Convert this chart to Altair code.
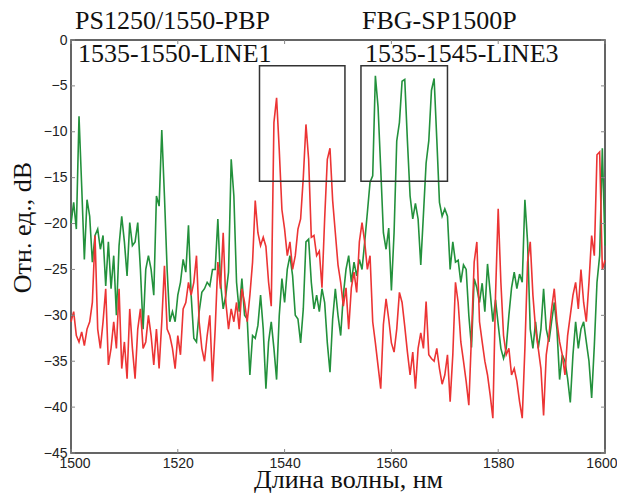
import altair as alt
import pandas as pd

# ---- data ----
wavelength = [1500 + 0.5 * i for i in range(201)]  # sampling grid, nm

green_db = [
    -20, -17.7, -20.6, -8.3, -15.9, -23.9, -17.4, -19.2, -24.2, -21.3,
    -20.6, -22.8, -21.3, -26.8, -22, -27.1, -23.5, -30, -22.4, -19.2,
    -22, -25.7, -19.9, -22.4, -22, -19.9, -25, -31.5, -25, -23.5,
    -25, -27.8, -17, -18.1, -9.8, -17, -25, -30.7, -29.6, -30.7,
    -27.8, -26.4, -23.9, -25.3, -20.2, -27.8, -32.5, -32.9, -29.6, -27.5,
    -27.1, -26.4, -26.8, -25, -25, -19.5, -26.4, -29.3, -27.8, -25.3,
    -13, -17, -26.4, -29.6, -26, -30, -30.4, -36.5, -32.2, -32.5,
    -31.1, -27.8, -31.5, -38, -32.9, -30.7, -33.6, -37, -30, -26,
    -28.6, -25, -23.5, -25.7, -30, -30.4, -33, -29.3, -22, -21.7,
    -26.4, -29.3, -27.8, -29.6, -27.1, -28.6, -33, -36.2, -30.4, -27.1,
    -30, -32.2, -27.8, -25, -23.5, -26.4, -24.2, -25.7, -23.9, -25,
    -22, -18.8, -15.5, -14.8, -3.9, -7.3, -14, -21, -22.8, -20.5,
    -27.3, -21, -11, -9, -4.5, -4.3, -11, -17, -19.5, -17.8,
    -19.5, -24.5, -19, -13.4, -11, -5.5, -4.2, -10.8, -17.7, -19.2,
    -18.4, -19.2, -25, -22, -24.2, -24, -26.4, -24.5, -25, -30,
    -33.5, -26, -27, -28.6, -26.5, -29.6, -24.4, -27.5, -30.7, -28.3,
    -31, -33.6, -34.7, -33.6, -30, -27, -25.3, -27.1, -25.5, -26.4,
    -17.4, -22, -31.5, -33.6, -30.7, -33.6, -31.5, -27.1, -31.5, -32.9,
    -30.7, -28.6, -31.5, -37, -34.3, -35, -36.9, -39.5, -34.3, -30.7,
    -33.6, -31.5, -30.7, -32.9, -35, -39, -33.3, -26.4, -23.5, -11.8,
    -22.4,
]

red_db = [
    -30.7, -29.6, -32.2, -32.9, -31.8, -33.3, -31.5, -30.7, -28.6, -21.3,
    -31.5, -33.6, -30.7, -27.1, -35.4, -33.6, -30.7, -33.6, -27.1, -35.8,
    -32.9, -36.9, -29.3, -33.6, -36.9, -31.5, -29.3, -33.6, -32.9, -30,
    -32.2, -35.4, -31.5, -35.8, -30.7, -24.6, -31.5, -32.2, -33.6, -35.8,
    -32.2, -34.3, -29.3, -28.6, -26.4, -27.8, -26.4, -23.5, -30.7, -33.6,
    -35, -32.2, -30, -37.2, -31.5, -24.2, -27.1, -21, -28.6, -31.5,
    -29.3, -30.7, -28.6, -31.5, -27.1, -28.6, -30.7, -27.8, -24.2, -17.5,
    -21, -22.4, -21.5, -22.5, -26.4, -29, -9, -6.3, -12, -18.5,
    -20.6, -23.5, -22, -25, -23.5, -20.6, -19.5, -15, -9.2, -13,
    -21.5, -21.3, -23.5, -23, -27, -19.5, -13, -11.8, -17.5, -21,
    -24.5, -26.4, -29, -27, -31.5, -27, -25.3, -27.5, -22, -19.9,
    -22, -25, -23.5, -30.7, -33, -35.5, -38, -31, -28.2, -30.4,
    -33, -34, -31.5, -27.5, -28.6, -31.2, -34, -36.5, -34, -38,
    -33.6, -31.9, -33.6, -28.5, -34.3, -34.7, -35, -33.6, -35.8, -37.5,
    -36.5, -34.3, -39.4, -34.3, -26.4, -28.6, -32.9, -35, -37.2, -39.8,
    -32.2, -24.2, -22, -30.7, -32.9, -35, -36.5, -38.7, -41.2, -27.8,
    -18.4, -26.4, -32.2, -34.3, -33.6, -36.5, -35.8, -37.2, -39.4, -41.2,
    -33.6, -24.2, -22, -27.8, -31.5, -33.6, -35.8, -40.9, -34.3, -32.2,
    -29.3, -27.1, -30.7, -32.9, -34.3, -36.5, -32.2, -30, -27.8, -26.4,
    -29.3, -25, -28.6, -30.7, -26.4, -21.3, -23.5, -12.5, -12.2, -25,
    -24,
]

x_ticks = [1500, 1520, 1540, 1560, 1580, 1600]
y_ticks = [-45, -40, -35, -30, -25, -20, -15, -10, -5, 0]

box_x_start = [1535.3, 1554.3]
box_x_end = [1551.3, 1570.5]
box_y_top = [-2.8, -2.8]
box_y_bottom = [-15.4, -15.4]

source_labels = ["PS1250/1550-PBP", "FBG-SP1500P"]
line_labels = ["1535-1550-LINE1", "1535-1545-LINE3"]

x_title = "Длина волны, нм"
y_title = "Отн. ед., dB"

# ---- tables ----
df_green = pd.DataFrame({"wavelength": wavelength, "value": green_db})
df_red = pd.DataFrame({"wavelength": wavelength, "value": red_db})
df_boxes = pd.DataFrame({"wavelength": box_x_start, "x2": box_x_end,
                         "value": box_y_top, "y2": box_y_bottom})
df_xt = pd.DataFrame({"wavelength": x_ticks})
df_yt = pd.DataFrame({"value": y_ticks})

W, H = 534, 413
SERIF = "Liberation Serif"
SANS = "Liberation Sans"

xs = alt.Scale(domain=[1500, 1600], nice=False, zero=False)
ys = alt.Scale(domain=[-45, 0], nice=False, zero=False)

common_axis = dict(
    grid=False, domain=False, ticks=False, tickSize=0,
    labelOverlap=False, format="d",
    labelFont=SANS, labelFontSize=14, labelColor="#222",
    titleFont=SERIF, titleFontWeight="normal", titleColor="#111",
)

x_axis = alt.Axis(
    values=x_ticks, title=x_title, labelPadding=3, titleFontSize=26,
    labelFlush=True, labelFlushOffset=12,
    titleX=277, titleY=34, titleAlign="center", titleBaseline="alphabetic",
    **common_axis,
)
y_axis = alt.Axis(
    values=y_ticks, title=y_title, labelPadding=4, titleFontSize=26,
    labelFlush=False,
    titleX=-41, titleY=187, titleAngle=270, titleAlign="center",
    titleBaseline="alphabetic",
    **common_axis,
)

X = alt.X("wavelength:Q", scale=xs, axis=x_axis)
Y = alt.Y("value:Q", scale=ys, axis=y_axis)

green_line = alt.Chart(df_green).mark_line(color="#23913c", strokeWidth=1.6).encode(x=X, y=Y)
red_line = alt.Chart(df_red).mark_line(color="#ec3434", strokeWidth=1.6).encode(x=X, y=Y)

boxes = alt.Chart(df_boxes).mark_rect(fillOpacity=0, stroke="#333", strokeWidth=1.5).encode(
    x=X, x2="x2:Q", y=Y, y2="y2:Q",
)

tick_color = "#888"
tick_bottom = alt.Chart(df_xt).mark_rule(color=tick_color, strokeWidth=1).encode(
    x=X, y=alt.value(H), y2=alt.value(H - 4))
tick_top = alt.Chart(df_xt).mark_rule(color=tick_color, strokeWidth=1).encode(
    x=X, y=alt.value(0), y2=alt.value(4))
tick_left = alt.Chart(df_yt).mark_rule(color=tick_color, strokeWidth=1).encode(
    y=Y, x=alt.value(0), x2=alt.value(4))
tick_right = alt.Chart(df_yt).mark_rule(color=tick_color, strokeWidth=1).encode(
    y=Y, x=alt.value(W), x2=alt.value(W - 4))


def label(txt, px, py):
    return alt.Chart(pd.DataFrame({"label": [txt]})).mark_text(
        align="left", baseline="alphabetic", font=SERIF, fontSize=26, color="#111"
    ).encode(text="label:N", x=alt.value(px), y=alt.value(py))


texts = [
    label(source_labels[0], 4, -11),
    label(line_labels[0], 7, 22),
    label(source_labels[1], 291, -11),
    label(line_labels[1], 294, 22),
]

chart = alt.layer(
    green_line, red_line, boxes, tick_bottom, tick_top, tick_left, tick_right, *texts
).properties(
    width=W, height=H,
    background="white",
    autosize=alt.AutoSizeParams(type="none"),
    padding={"left": 63, "top": 32, "right": 12, "bottom": 40},
).configure_view(stroke="#333", strokeWidth=1.5)

chart.save("out.html", embed_options={"renderer": "svg", "actions": False})
